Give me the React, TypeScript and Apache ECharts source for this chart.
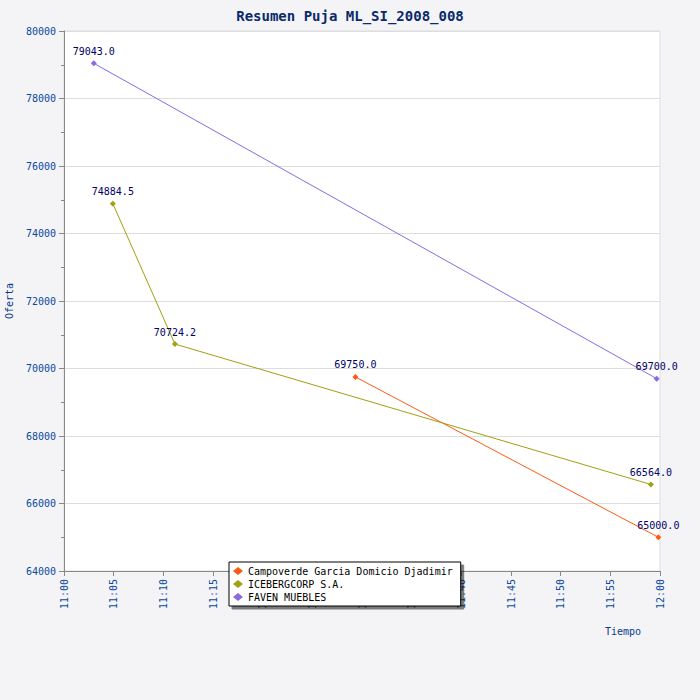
import React, { useEffect, useRef } from 'react';
import * as echarts from 'echarts';

const seriesNames = ['Campoverde Garcia Domicio Djadimir', 'ICEBERGCORP S.A.', 'FAVEN MUEBLES'];
const seriesColors = ['#ff5a14', '#a0a010', '#8a6ae0'];
const campoTimes = ['11:29:20', '11:59:50'];
const campoValues = [69750.0, 65000.0];
const icebergTimes = ['11:04:55', '11:11:10', '11:59:05'];
const icebergValues = [74884.5, 70724.2, 66564.0];
const favenTimes = ['11:03:00', '11:59:40'];
const favenValues = [79043.0, 69700.0];

const toMin = (t: string) => {
  const [h, m, s] = t.split(':').map(Number);
  return (h - 11) * 60 + m + s / 60;
};
const pairs = (times: string[], vals: number[]) => times.map((t, i) => [toMin(t), vals[i]]);

const App: React.FC = () => {
  const ref = useRef<HTMLDivElement>(null);

  useEffect(() => {
    document.body.style.margin = '0';
    if (!ref.current) return;
    const chart = echarts.init(ref.current, undefined, { renderer: 'svg' });
    const font = 'DejaVu Sans Mono';
    const data = [pairs(campoTimes, campoValues), pairs(icebergTimes, icebergValues), pairs(favenTimes, favenValues)];
    chart.setOption({
      animation: false,
      backgroundColor: '#f4f4f6',
      textStyle: { fontFamily: font },
      title: {
        text: 'Resumen Puja ML_SI_2008_008', left: 'center', top: 4,
        textStyle: { fontFamily: font, fontSize: 14, fontWeight: 'bold', color: '#0a2a6a' },
      },
      grid: {
        left: 64, right: 40, top: 31, bottom: 129, containLabel: false, outerBoundsMode: 'none',
        backgroundColor: '#fff', show: true, borderColor: '#ddd',
      },
      legend: {
        orient: 'vertical', left: 229, top: 562, itemGap: 3, itemWidth: 10, itemHeight: 8,
        backgroundColor: '#fff', borderColor: '#000', borderWidth: 1, padding: [4, 8, 4, 4],
        shadowColor: 'rgba(0,0,0,0.5)', shadowOffsetX: 3, shadowOffsetY: 3,
        textStyle: { fontFamily: font, fontSize: 10, color: '#000' },
        data: seriesNames.map((n) => ({ name: n, icon: 'diamond' })),
      },
      xAxis: {
        type: 'value', min: 0, max: 60, interval: 5,
        name: 'Tiempo', nameLocation: 'end', nameGap: 0,
        nameTextStyle: { fontFamily: font, fontSize: 10, color: '#0a3a8a', padding: [55, 0, 0, -55], verticalAlign: 'top' },
        axisLine: { lineStyle: { color: '#888' } },
        axisTick: { lineStyle: { color: '#888' } },
        splitLine: { show: false },
        axisLabel: {
          rotate: 90, fontSize: 10, color: '#0a4aa0', fontFamily: font,
          formatter: (v: number) => `${11 + Math.floor(v / 60)}:${String(v % 60).padStart(2, '0')}`,
        },
      },
      yAxis: {
        type: 'value', min: 64000, max: 80000, interval: 2000,
        name: 'Oferta', nameLocation: 'middle', nameGap: 48,
        nameTextStyle: { fontFamily: font, fontSize: 10, color: '#0a3a8a' },
        axisLine: { show: true, lineStyle: { color: '#888' } },
        axisTick: { show: true, lineStyle: { color: '#888' } },
        minorTick: { show: true, splitNumber: 2, length: 3, lineStyle: { color: '#888' } },
        splitLine: { lineStyle: { color: '#ddd' } },
        axisLabel: { fontSize: 10, color: '#0a4aa0', fontFamily: font, formatter: (v: number) => String(v) },
      },
      series: seriesNames.map((n, i) => ({
        name: n, type: 'line', data: data[i], color: seriesColors[i],
        symbol: 'diamond', symbolSize: 6, lineStyle: { width: 1 },
        label: {
          show: true, position: 'top', distance: 4, fontFamily: font, fontSize: 10, color: '#000066',
          formatter: (p: any) => Number(p.value[1]).toFixed(1),
        },
      })),
    });
    return () => chart.dispose();
  }, []);

  return <div ref={ref} style={{ width: 700, height: 700 }} />;
};

export default App;
